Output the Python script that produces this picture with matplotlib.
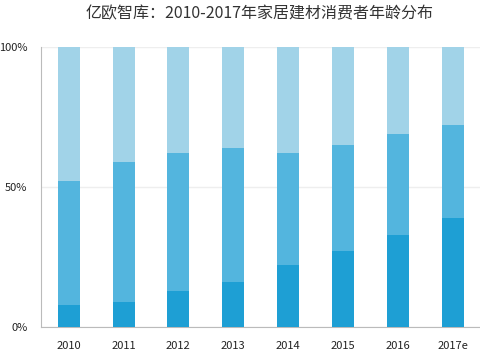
import numpy as np
import matplotlib
matplotlib.use("Agg")
import matplotlib.pyplot as plt

plt.rcParams['font.family'] = ['Noto Sans CJK SC', 'DejaVu Sans']

# 年份与各年龄段占比（%）
years = ['2010', '2011', '2012', '2013', '2014', '2015', '2016', '2017e']
seg_bottom = [8, 9, 13, 16, 22, 27, 33, 39]       # 最深色
seg_top_of_mid = [52, 59, 62, 64, 62, 65, 69, 72]  # 中间色累计顶端
seg_mid = [t - b for t, b in zip(seg_top_of_mid, seg_bottom)]
seg_light = [100 - t for t in seg_top_of_mid]

colors = ['#1e9fd4', '#53b5de', '#a1d3e8']

fig = plt.figure(figsize=(4.8, 3.6), dpi=100)
ax = fig.add_axes([0.086, 0.092, 0.914, 0.777])

x = np.arange(len(years))
w = 0.4
ax.bar(x, seg_bottom, w, color=colors[0], zorder=3)
ax.bar(x, seg_mid, w, bottom=seg_bottom, color=colors[1], zorder=3)
ax.bar(x, seg_light, w, bottom=seg_top_of_mid, color=colors[2], zorder=3)

ax.set_xlim(-0.5, len(years) - 0.5)
ax.set_ylim(0, 100)
ax.set_yticks([0, 50, 100])
ax.set_yticklabels(['0%', '50%', '100%'])
ax.set_xticks(x)
ax.set_xticklabels(years)

ax.yaxis.grid(True, color='#eeeeee', linewidth=1, zorder=0)
for s in ['top', 'right']:
    ax.spines[s].set_visible(False)
for s in ['left', 'bottom']:
    ax.spines[s].set_color('#bbbbbb')
ax.tick_params(axis='both', length=0, labelsize=8, colors='#222222')
ax.tick_params(axis='x', pad=10)
ax.tick_params(axis='y', pad=10)
for lbl in ax.get_xticklabels():
    lbl.set_fontweight('medium')

fig.text(0.54, 0.962, '亿欧智库：2010-2017年家居建材消费者年龄分布',
         ha='center', va='center', fontsize=11.5, color='#333333')

fig.savefig('out.png', dpi=100)
